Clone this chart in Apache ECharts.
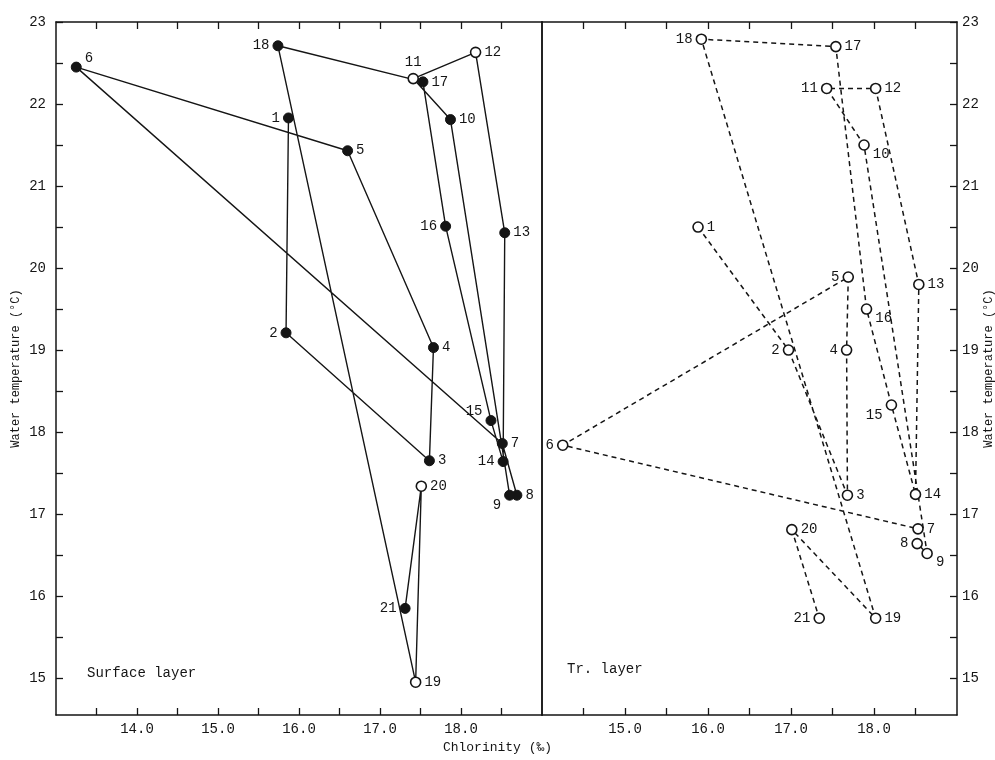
<!DOCTYPE html>
<html>
<head>
<meta charset="utf-8">
<script src="https://cdn.jsdelivr.net/npm/echarts@6/dist/echarts.min.js"></script>
<style>html,body{margin:0;padding:0;background:#fff;}#c{width:995px;height:760px;}</style>
</head>
<body>
<div id="c"></div>
<script>
// ---- data ----
const stations = [1,2,3,4,5,6,7,8,9,10,11,12,13,14,15,16,17,18,19,20,21];
const surfaceChlorinity = [15.87,15.84,17.61,17.66,16.60,13.25,18.51,18.69,18.60,17.87,17.41,18.18,18.54,18.52,18.37,17.81,17.53,15.74,17.44,17.51,17.31];
const surfaceTemperature = [21.83,19.21,17.65,19.03,21.43,22.45,17.86,17.23,17.23,21.81,22.31,22.63,20.43,17.64,18.14,20.51,22.27,22.71,14.95,17.34,15.85];
const surfaceOpen = [11,12,19,20];
const trChlorinity = [15.88,16.97,17.68,17.67,17.69,14.25,18.53,18.52,18.64,17.88,17.43,18.02,18.54,18.50,18.21,17.91,17.54,15.92,18.02,17.01,17.34];
const trTemperature = [20.50,19.00,17.23,19.00,19.89,17.84,16.82,16.64,16.52,21.50,22.19,22.19,19.80,17.24,18.33,19.50,22.70,22.79,15.73,16.81,15.73];

const surfaceXTicks = [13.5,14,14.5,15,15.5,16,16.5,17,17.5,18,18.5];
const surfaceXLabels = [14,15,16,17,18];
const trXTicks = [14.5,15,15.5,16,16.5,17,17.5,18,18.5];
const trXLabels = [15,16,17,18];
const yTicks = [15,15.5,16,16.5,17,17.5,18,18.5,19,19.5,20,20.5,21,21.5,22,22.5,23];
const yLabels = [15,16,17,18,19,20,21,22,23];

// label placement (style only)
const surfaceLabelPos = ['l','l','r','r','r','tr','r','r','bl','r','t','r','r','l','tl','l','r','l','r','r','l'];
const trLabelPos = ['r','l','r','l','l','l','r','l','br','br','l','r','r','r','bl','br','r','l','r','r','l'];

const FONT = 'Liberation Mono';
const INK = '#151515';

function labelCfg(p){
  const base = {show:true, formatter:'{b}', fontFamily:FONT, fontSize:14, color:INK, distance:3};
  const map = {
    r:{position:'right'}, l:{position:'left'}, t:{position:'top'}, b:{position:'bottom'},
    tr:{position:'right', offset:[0,-9]}, tl:{position:'left', offset:[0,-9]},
    br:{position:'right', offset:[0,9]}, bl:{position:'left', offset:[0,10]}
  };
  return Object.assign(base, map[p]);
}

const surfaceData = stations.map((s,i)=>{
  const open = surfaceOpen.indexOf(s) >= 0;
  return {
    name:String(s),
    value:[surfaceChlorinity[i], surfaceTemperature[i]],
    itemStyle: open ? {color:'#fff', borderColor:INK, borderWidth:1.6} : {color:INK, borderColor:INK, borderWidth:1},
    label: labelCfg(surfaceLabelPos[i])
  };
});
const trData = stations.map((s,i)=>({
  name:String(s),
  value:[trChlorinity[i], trTemperature[i]],
  label: labelCfg(trLabelPos[i])
}));

const axisLine = {show:true, lineStyle:{color:INK, width:1.5}};
const tickStyle = {lineStyle:{color:INK, width:1.3}};
const yMin = 14.55, yMax = 23;

const option = {
  backgroundColor:'#fff',
  animation:false,
  textStyle:{fontFamily:FONT},
  title:[
    {text:'Chlorinity (‰)', left:'center', top:736, textStyle:{fontFamily:FONT, fontSize:13, fontWeight:'normal', color:INK}},
    {text:'Surface layer', left:82, top:661, textStyle:{fontFamily:FONT, fontSize:14, fontWeight:'normal', color:INK}},
    {text:'Tr. layer', left:562, top:657, textStyle:{fontFamily:FONT, fontSize:14, fontWeight:'normal', color:INK}}
  ],
  grid:[
    {left:56, top:22, width:486, height:693, containLabel:false, outerBoundsMode:'none'},
    {left:542, top:22, width:415, height:693, containLabel:false, outerBoundsMode:'none'}
  ],
  xAxis:[
    {gridIndex:0, type:'value', position:'bottom', min:13, max:19, axisLine:axisLine, splitLine:{show:false},
     axisTick:Object.assign({inside:true, length:7, customValues:surfaceXTicks}, tickStyle),
     axisLabel:{customValues:surfaceXLabels, formatter:v=>Number(v).toFixed(1), margin:7, fontFamily:FONT, fontSize:14, color:INK}},
    {gridIndex:0, type:'value', position:'top', min:13, max:19, axisLine:axisLine, splitLine:{show:false},
     axisTick:Object.assign({inside:true, length:7, customValues:surfaceXTicks}, tickStyle),
     axisLabel:{show:false}},
    {gridIndex:1, type:'value', position:'bottom', min:14, max:19, axisLine:axisLine, splitLine:{show:false},
     axisTick:Object.assign({inside:true, length:7, customValues:trXTicks}, tickStyle),
     axisLabel:{customValues:trXLabels, formatter:v=>Number(v).toFixed(1), margin:7, fontFamily:FONT, fontSize:14, color:INK}},
    {gridIndex:1, type:'value', position:'top', min:14, max:19, axisLine:axisLine, splitLine:{show:false},
     axisTick:Object.assign({inside:true, length:7, customValues:trXTicks}, tickStyle),
     axisLabel:{show:false}}
  ],
  yAxis:[
    {gridIndex:0, type:'value', position:'left', min:yMin, max:yMax, axisLine:axisLine, splitLine:{show:false},
     axisTick:Object.assign({inside:true, length:7, customValues:yTicks}, tickStyle),
     axisLabel:{customValues:yLabels, margin:10, fontFamily:FONT, fontSize:14, color:INK},
     name:'Water temperature (°C)', nameLocation:'middle', nameRotate:90, nameGap:34,
     nameTextStyle:{fontFamily:FONT, fontSize:12, color:INK}},
    {gridIndex:0, type:'value', position:'right', min:yMin, max:yMax, axisLine:axisLine, splitLine:{show:false},
     axisTick:{show:false}, axisLabel:{show:false}},
    {gridIndex:1, type:'value', position:'right', min:yMin, max:yMax, axisLine:axisLine, splitLine:{show:false},
     axisTick:Object.assign({inside:true, length:7, customValues:yTicks}, tickStyle),
     axisLabel:{customValues:yLabels, margin:5, fontFamily:FONT, fontSize:14, color:INK},
     name:'Water temperature (°C)', nameLocation:'middle', nameRotate:90, nameGap:25,
     nameTextStyle:{fontFamily:FONT, fontSize:12, color:INK}},
    {gridIndex:1, type:'value', position:'left', min:yMin, max:yMax, axisLine:axisLine, splitLine:{show:false},
     axisTick:{show:false}, axisLabel:{show:false}}
  ],
  series:[
    {type:'line', name:'Surface layer', xAxisIndex:0, yAxisIndex:0, data:surfaceData,
     symbol:'circle', symbolSize:10, lineStyle:{color:INK, width:1.4, type:'solid'},
     itemStyle:{color:INK}, z:3},
    {type:'line', name:'Tr. layer', xAxisIndex:2, yAxisIndex:2, data:trData,
     symbol:'circle', symbolSize:10, lineStyle:{color:INK, width:1.5, type:[5,4]},
     itemStyle:{color:'#fff', borderColor:INK, borderWidth:1.6}, z:3}
  ]
};

const chart = echarts.init(document.getElementById('c'), null, {renderer:'canvas'});
chart.setOption(option);
</script>
</body>
</html>
